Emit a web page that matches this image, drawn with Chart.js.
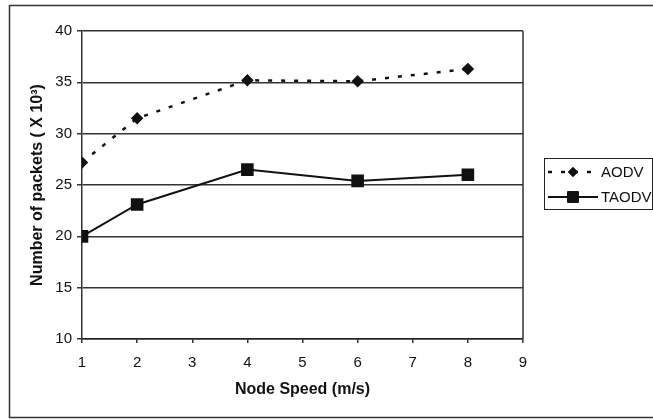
<!DOCTYPE html>
<html>
<head>
<meta charset="utf-8">
<script src="https://cdn.jsdelivr.net/npm/chart.js@4.4.1/dist/chart.umd.min.js"></script>
<style>
html,body{margin:0;padding:0;background:#fff;}
#wrap{width:653px;height:420px;position:relative;}
</style>
</head>
<body>
<div id="wrap"><canvas id="c" width="653" height="420"></canvas></div>
<script>
const speeds = [1, 2, 4, 6, 8];
const aodv = [27.2, 31.5, 35.2, 35.1, 36.3];
const taodv = [20.0, 23.1, 26.5, 25.4, 26.0];
const seriesNames = ['AODV', 'TAODV'];
const xTitle = 'Node Speed (m/s)';
const yTitle = 'Number of packets ( X 10\u00B3)';

const ink = '#111';
const gridCol = '#333';
const FONT = "'Liberation Sans', Arial, sans-serif";

const frame = {
  id: 'frame',
  beforeDraw(chart) {
    const ctx = chart.ctx;
    ctx.save();
    ctx.fillStyle = '#fff';
    ctx.fillRect(0, 0, chart.width, chart.height);
    ctx.strokeStyle = '#333';
    ctx.lineWidth = 1.5;
    ctx.beginPath();
    ctx.moveTo(660, 5.5); ctx.lineTo(9.5, 5.5); ctx.lineTo(9.5, 417.5); ctx.lineTo(660, 417.5);
    ctx.stroke();
    ctx.restore();
  },
  afterDraw(chart) {
    const ctx = chart.ctx;
    const a = chart.chartArea;
    ctx.save();
    ctx.strokeStyle = gridCol;
    ctx.lineWidth = 1.5;
    ctx.beginPath();
    ctx.moveTo(a.right, a.top); ctx.lineTo(a.right, a.bottom);
    ctx.stroke();
    const bx = 544.5, by = 158.5, bw = 108, bh = 51;
    ctx.strokeStyle = '#222';
    ctx.lineWidth = 1;
    ctx.strokeRect(bx, by, bw, bh);
    const rows = [172, 197];
    chart.data.datasets.forEach((ds, i) => {
      const y = rows[i];
      ctx.save();
      ctx.strokeStyle = ds.borderColor;
      ctx.lineWidth = ds.borderWidth;
      ctx.setLineDash(ds.borderDash || []);
      ctx.beginPath();
      ctx.moveTo(548, y); ctx.lineTo(598, y);
      ctx.stroke();
      ctx.restore();
      Chart.helpers.drawPoint(ctx, {
        pointStyle: ds.pointStyle, radius: ds.pointRadius, borderWidth: 1, rotation: 0
      }, 573, y);
      ctx.fillStyle = ds.pointBackgroundColor;
      ctx.strokeStyle = ds.pointBorderColor;
      ctx.lineWidth = 1;
      ctx.fill(); ctx.stroke();
      ctx.fillStyle = ink;
      ctx.font = '15px ' + FONT;
      ctx.textBaseline = 'middle';
      ctx.textAlign = 'left';
      ctx.fillText(ds.label, 601, y + 1);
    });
    ctx.restore();
  }
};

new Chart(document.getElementById('c'), {
  type: 'line',
  data: {
    datasets: [
      {
        label: seriesNames[0],
        data: speeds.map((s, i) => ({x: s, y: aodv[i]})),
        borderColor: ink,
        borderWidth: 2.5,
        borderDash: [4, 9],
        pointStyle: 'rectRot',
        pointRadius: 4.5,
        pointBackgroundColor: ink,
        pointBorderColor: ink,
        tension: 0
      },
      {
        label: seriesNames[1],
        data: speeds.map((s, i) => ({x: s, y: taodv[i]})),
        borderColor: ink,
        borderWidth: 2,
        pointStyle: 'rect',
        pointRadius: 7.5,
        pointBackgroundColor: ink,
        pointBorderColor: ink,
        tension: 0
      }
    ]
  },
  options: {
    responsive: false,
    animation: false,
    layout: {padding: {left: 0, top: 31, right: 130, bottom: 0}},
    plugins: {legend: {display: false}, tooltip: {enabled: false}},
    scales: {
      x: {
        type: 'linear',
        min: 1, max: 9,
        afterFit(scale) { scale.height = 81; },
        ticks: {stepSize: 1, color: ink, padding: 11, font: {family: FONT, size: 15}},
        grid: {drawOnChartArea: false, drawTicks: true, tickLength: 4, color: gridCol, lineWidth: 1.5},
        border: {display: true, color: '#222', width: 1.5},
        title: {display: true, text: xTitle, color: ink, padding: {top: 0, bottom: 21}, font: {family: FONT, size: 16, weight: 'bold'}}
      },
      y: {
        min: 10, max: 40,
        afterFit(scale) { scale.width = 82; },
        ticks: {stepSize: 5, color: ink, padding: 5, font: {family: FONT, size: 15}},
        grid: {color: gridCol, lineWidth: 1.5, tickLength: 5},
        border: {display: true, color: gridCol, width: 1.5},
        title: {display: true, text: yTitle, color: ink, padding: {top: 28, bottom: 0}, font: {family: FONT, size: 16, weight: 'bold'}}
      }
    }
  },
  plugins: [frame]
});
</script>
</body>
</html>
